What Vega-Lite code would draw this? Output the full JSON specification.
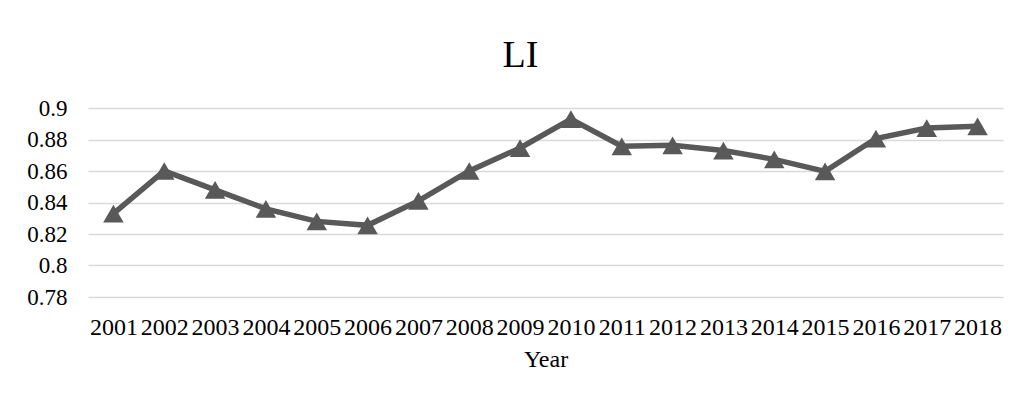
{
  "$schema": "https://vega.github.io/schema/vega-lite/v6.json",
  "autosize": "none",
  "width": 915,
  "height": 189,
  "padding": {"left": 88, "top": 108, "right": 15, "bottom": 106},
  "background": "white",
  "config": {
    "font": "Liberation Serif",
    "view": {"stroke": null}
  },
  "title": {
    "text": "LI",
    "font": "Liberation Serif",
    "fontSize": 38,
    "fontWeight": "normal",
    "color": "#000000",
    "baseline": "bottom",
    "frame": "group",
    "offset": 32,
    "dx": -25,
    "dy": 48
  },
  "data": {
    "values": [
      {"Year": "2001", "LI": 0.833},
      {"Year": "2002", "LI": 0.860},
      {"Year": "2003", "LI": 0.848},
      {"Year": "2004", "LI": 0.836},
      {"Year": "2005", "LI": 0.828},
      {"Year": "2006", "LI": 0.8255},
      {"Year": "2007", "LI": 0.841},
      {"Year": "2008", "LI": 0.860},
      {"Year": "2009", "LI": 0.8746},
      {"Year": "2010", "LI": 0.893},
      {"Year": "2011", "LI": 0.8757},
      {"Year": "2012", "LI": 0.8763},
      {"Year": "2013", "LI": 0.873},
      {"Year": "2014", "LI": 0.8674},
      {"Year": "2015", "LI": 0.8598},
      {"Year": "2016", "LI": 0.8806},
      {"Year": "2017", "LI": 0.8873},
      {"Year": "2018", "LI": 0.8884}
    ]
  },
  "encoding": {
    "x": {
      "field": "Year",
      "type": "ordinal",
      "scale": {"paddingInner": 0, "paddingOuter": 0.5},
      "axis": {
        "title": "Year",
        "labelAngle": 0,
        "labelFont": "Liberation Serif",
        "labelFontSize": 24,
        "labelColor": "#000000",
        "labelPadding": 18,
        "ticks": false,
        "domain": false,
        "titleFont": "Liberation Serif",
        "titleFontSize": 24,
        "titleFontWeight": "normal",
        "titleColor": "#000000",
        "titlePadding": 8
      }
    },
    "y": {
      "field": "LI",
      "type": "quantitative",
      "scale": {"domain": [0.78, 0.9], "nice": false, "zero": false},
      "axis": {
        "title": null,
        "values": [0.78, 0.8, 0.82, 0.84, 0.86, 0.88, 0.9],
        "labelExpr": "format(datum.value, '.2~f')",
        "labelFont": "Liberation Serif",
        "labelFontSize": 23,
        "labelColor": "#000000",
        "labelPadding": 21,
        "ticks": false,
        "domain": false,
        "grid": true,
        "gridColor": "#d9d9d9",
        "gridWidth": 1.5
      }
    }
  },
  "layer": [
    {
      "mark": {"type": "line", "color": "#595959", "strokeWidth": 5.5}
    },
    {
      "mark": {"type": "point", "shape": "triangle-up", "filled": true, "color": "#595959", "opacity": 1, "size": 420}
    }
  ]
}
